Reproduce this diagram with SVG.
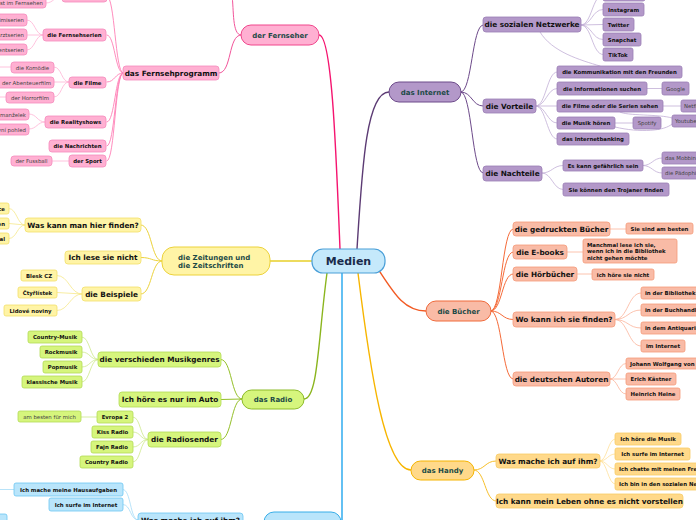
<svg xmlns="http://www.w3.org/2000/svg" width="696" height="520" viewBox="0 0 696 520">
<style>
text{font-family:"DejaVu Sans","Liberation Sans",sans-serif}
.t0{font-size:11px;font-weight:bold;fill:#1a2b4a;text-anchor:middle}
.t1{font-size:7px;font-weight:bold;fill:#1c4a46;text-anchor:middle}
.t2{font-size:7.3px;font-weight:bold;fill:#111;text-anchor:middle}
.t3{font-size:5.4px;font-weight:bold;fill:#111;text-anchor:middle}
.tn{font-size:5.4px;fill:#444;text-anchor:middle}
.s{text-anchor:start}
.e{text-anchor:end}
.c{fill:none}
.pkA{fill:#ffb0d2;stroke:#f0468c;stroke-width:1}
.pk{fill:#ffb0d2;stroke:#f58cbc;stroke-width:0.8}
.puA{fill:#b398c9;stroke:#6d4a8a;stroke-width:1}
.pu{fill:#b398c9;stroke:#9a7db5;stroke-width:0.8}
.yeA{fill:#fff4a6;stroke:#ecd23a;stroke-width:1}
.ye{fill:#fff4a6;stroke:#f2df6a;stroke-width:0.8}
.saA{fill:#f9bba6;stroke:#f06a3b;stroke-width:1}
.sa{fill:#f9bba6;stroke:#f59a7a;stroke-width:0.8}
.grA{fill:#d6f57d;stroke:#8dbb2a;stroke-width:1}
.gr{fill:#d6f57d;stroke:#b2da55;stroke-width:0.8}
.orA{fill:#ffd98a;stroke:#f5b400;stroke-width:1}
.or{fill:#ffd98a;stroke:#f8cc66;stroke-width:0.8}
.blA{fill:#b9e5fb;stroke:#38aee8;stroke-width:1}
.bl{fill:#b9e5fb;stroke:#6cc6f2;stroke-width:0.8}
</style>
<rect width="696" height="520" fill="#fff"/>
<g id="connectors" fill="none" stroke-linecap="round">
<!-- main -->
<path d="M340 249 C336 150 332 35 319 35" stroke="#f5146f" stroke-width="1.4"/>
<path d="M357 249 C362 170 366 92 389 92" stroke="#5c3b74" stroke-width="1.4"/>
<path d="M312 261 L270 261" stroke="#e8cf2a" stroke-width="1.4"/>
<path d="M380 272 C395 295 405 311 426 311" stroke="#f25a23" stroke-width="1.4"/>
<path d="M327 273 C318 340 318 399 304 399" stroke="#8bb51e" stroke-width="1.4"/>
<path d="M358 273 C370 370 385 470 411 470" stroke="#f7b500" stroke-width="1.4"/>
<path d="M342 273 L342 520" stroke="#22a6ee" stroke-width="1.4"/>
<!-- Fernseher -->
<g stroke="#f2549a" stroke-width="1">
<path d="M241 35 C232 35 234 10 232 -5"/>
<path d="M241 35 C228 35 232 73 219 73"/>
</g>
<g stroke="#ff7fb6" stroke-width="0.9">
<path d="M123 73 C115 73 115 -4 107 -4"/>
<path d="M123 73 C115 73 115 35 107 35"/>
<path d="M123 73 C115 73 115 82 107 82"/>
<path d="M123 73 C115 73 115 122 107 122"/>
<path d="M123 73 C115 73 115 146 107 146"/>
<path d="M123 73 C115 73 115 161 107 161"/>
</g>
<g stroke="#ffb3d4" stroke-width="0.8">
<path d="M62 -4 C54 -4 54 3 46 3"/>
<path d="M43 35 C35 35 35 20 27 20"/>
<path d="M43 35 L27 35"/>
<path d="M43 35 C35 35 35 50 27 50"/>
<path d="M69 82 C61 82 62 67 54 67"/>
<path d="M69 82 L54 82"/>
<path d="M69 82 C61 82 62 97 54 97"/>
<path d="M11 67 L-2 67"/>
<path d="M6 97 L-2 97"/>
<path d="M45 122 C37 122 37 114 29 114"/>
<path d="M45 122 C37 122 37 129 29 129"/>
<path d="M69 161 L52 161"/>
</g>
<!-- Internet -->
<g stroke="#6d4a8a" stroke-width="1">
<path d="M461 92 C472 92 472 25 483 25"/>
<path d="M461 92 C472 92 472 106 483 106"/>
<path d="M461 92 C472 92 472 173 483 173"/>
</g>
<g stroke="#c2aed5" stroke-width="0.8">
<path d="M581 25 C592 25 592 -5 603 -5"/>
<path d="M581 25 C592 25 592 9.5 603 9.5"/>
<path d="M581 25 L603 24.5"/>
<path d="M581 25 C592 25 592 39.5 603 39.5"/>
<path d="M581 25 C592 25 592 54.5 603 54.5"/>
<path d="M540 32 C552 52 580 60 600 66"/>
<path d="M536 106 C546 106 547 72 557 72"/>
<path d="M536 106 C546 106 547 88.5 557 88.5"/>
<path d="M536 106 L557 106"/>
<path d="M536 106 C546 106 547 123 557 123"/>
<path d="M536 106 C546 106 547 139 557 139"/>
<path d="M647 88.5 L662 88.5"/>
<path d="M663 106 L681 106"/>
<path d="M620 112 C626 116 660 114 672 118"/>
<path d="M615 127 C640 133 665 131 672 124"/>
<path d="M615 123 L633 123"/>
<path d="M542 173 C552 173 553 165.5 563 165.5"/>
<path d="M542 173 C552 173 553 189.5 563 189.5"/>
<path d="M643 165.5 C652 165.5 653 158 662 158"/>
<path d="M643 165.5 C652 165.5 653 173 662 173"/>
</g>
<!-- Buecher -->
<g stroke="#f56a38" stroke-width="1">
<path d="M491 311 C502 311 502 229 513 229"/>
<path d="M491 311 C502 311 502 252 513 252"/>
<path d="M491 311 C502 311 502 274 513 274"/>
<path d="M491 311 C502 311 502 319.5 513 319.5"/>
<path d="M491 311 C502 311 502 379 513 379"/>
</g>
<g stroke="#fbb49a" stroke-width="0.8">
<path d="M610 229 L626 229"/>
<path d="M567 252 L583 252"/>
<path d="M577 274 L592 274"/>
<path d="M615 319.5 C628 319.5 628 293 641 293"/>
<path d="M615 319.5 C628 319.5 628 310 641 310"/>
<path d="M615 319.5 C628 319.5 628 328 641 328"/>
<path d="M615 319.5 C628 319.5 628 346 641 346"/>
<path d="M610 379 C618 379 618 363.5 626 363.5"/>
<path d="M610 379 L626 379"/>
<path d="M610 379 C618 379 618 394 626 394"/>
</g>
<!-- Handy -->
<g stroke="#f7bf2a" stroke-width="1">
<path d="M474 470 C485 470 485 461 496 461"/>
<path d="M474 470 C485 470 485 501 496 501"/>
</g>
<g stroke="#ffe19a" stroke-width="0.8">
<path d="M600 461 C607 461 608 439 615 439"/>
<path d="M600 461 C607 461 608 454 615 454"/>
<path d="M600 461 C607 461 608 469 615 469"/>
<path d="M600 461 C607 461 608 484 615 484"/>
</g>
<!-- Zeitungen -->
<g stroke="#ecd23a" stroke-width="1">
<path d="M162 261 C151 261 152 225 141 225"/>
<path d="M162 261 C151 261 152 257.5 141 257.5"/>
<path d="M162 261 C151 261 152 294 141 294"/>
</g>
<g stroke="#f6e88a" stroke-width="0.8">
<path d="M25 225 C17 225 17 208.5 9 208.5"/>
<path d="M25 225 L9 223.5"/>
<path d="M25 225 C17 225 17 238.5 9 238.5"/>
<path d="M82 294 C70 294 69 275.5 57 275.5"/>
<path d="M82 294 L57 292.5"/>
<path d="M82 294 C70 294 69 310.5 57 310.5"/>
</g>
<!-- Radio -->
<g stroke="#94bf28" stroke-width="1">
<path d="M242 399 C231 399 232 359.5 221 359.5"/>
<path d="M242 399 L221 399.5"/>
<path d="M242 399 C231 399 232 439.5 221 439.5"/>
</g>
<g stroke="#cde98a" stroke-width="0.8">
<path d="M98 359.5 C90 359.5 90 337 82 337"/>
<path d="M98 359.5 C90 359.5 90 352 82 352"/>
<path d="M98 359.5 C90 359.5 90 367 82 367"/>
<path d="M98 359.5 C90 359.5 90 382 82 382"/>
<path d="M148 439.5 C140 439.5 141 417 133 417"/>
<path d="M148 439.5 C140 439.5 141 432 133 432"/>
<path d="M148 439.5 C140 439.5 141 447 133 447"/>
<path d="M148 439.5 C140 439.5 141 462 133 462"/>
<path d="M81 417 L97 417"/>
</g>
<!-- Computer -->
<g stroke="#4ab8f0" stroke-width="1">
<path d="M264 522 L243 521"/>
</g>
<g stroke="#a6dcf7" stroke-width="0.8">
<path d="M138 520 C130 520 131 489.5 123 489.5"/>
<path d="M138 520 C130 520 131 504.5 123 504.5"/>
<path d="M14 489.5 L-2 489.5"/>
</g>
</g>

<g id="medien"><rect x="312" y="249" width="73" height="24" rx="11" fill="#c5e9fb" stroke="#4a9fd8" stroke-width="1.2"/><text class="t0" x="348.5" y="265">Medien</text></g>

<!-- Fernseher -->
<g id="fernseher"><rect class="pkA" x="241" y="25" width="78" height="20" rx="10"/><text class="t1" x="280" y="37.5">der Fernseher</text></g>
<g id="fernsehprogramm"><rect class="pk" x="123" y="66" width="96" height="14" rx="3"/><text class="t2" x="171" y="75.6">das Fernsehprogramm</text></g>
<g id="fp-top"><rect class="pk" x="62" y="-12" width="45" height="14" rx="3"/></g>
<g id="fp-top-c"><rect class="pk" x="-6" y="-3" width="52" height="11" rx="3"/><text class="tn e" x="43" y="4.9">ist im Fernsehen</text></g>
<g id="fernsehserien"><rect class="pk" x="43" y="29" width="63" height="12" rx="3"/><text class="t3" x="74.5" y="37">die Fernsehserien</text></g>
<g id="krimi"><rect class="pk" x="-6" y="14" width="33" height="12" rx="3"/><text class="tn e" x="24" y="22">Krimiserien</text></g>
<g id="arzt"><rect class="pk" x="-6" y="29" width="33" height="11" rx="3"/><text class="tn e" x="24" y="36.5">Arztserien</text></g>
<g id="dok"><rect class="pk" x="-6" y="44" width="33" height="11" rx="3"/><text class="tn e" x="24" y="51.5">Dokumentserien</text></g>
<g id="filme"><rect class="pk" x="69" y="77" width="37" height="11" rx="3"/><text class="t3" x="87.5" y="84.6">die Filme</text></g>
<g id="komoedie"><rect class="pk" x="11" y="62" width="43" height="11" rx="3"/><text class="tn" x="32.5" y="69.6">die Komödie</text></g>
<g id="abenteuer"><rect class="pk" x="-6" y="77" width="60" height="11" rx="3"/><text class="tn e" x="51" y="84.6">der Abenteuerfilm</text></g>
<g id="horror"><rect class="pk" x="6" y="92" width="48" height="11" rx="3"/><text class="tn" x="30" y="99.6">der Horrorfilm</text></g>
<g id="reality"><rect class="pk" x="45" y="116" width="61" height="12" rx="3"/><text class="t3" x="75.5" y="124">die Realityshows</text></g>
<g id="vymena"><rect class="pk" x="-6" y="109" width="35" height="11" rx="3"/><text class="tn e" x="26" y="116.6">Výměna manželek</text></g>
<g id="prvni"><rect class="pk" x="-6" y="124" width="35" height="11" rx="3"/><text class="tn e" x="26" y="131.6">Svatba na první pohled</text></g>
<g id="nachrichten"><rect class="pk" x="49" y="140" width="57" height="12" rx="3"/><text class="t3" x="77.5" y="148">die Nachrichten</text></g>
<g id="sport"><rect class="pk" x="69" y="155" width="37" height="12" rx="3"/><text class="t3" x="87.5" y="163">der Sport</text></g>
<g id="fussball"><rect class="pk" x="11" y="156" width="41" height="10" rx="3"/><text class="tn" x="31.5" y="163">der Fussball</text></g>

<!-- Internet -->
<g id="internet"><rect class="puA" x="389" y="82" width="72" height="20" rx="10"/><text class="t1" x="425" y="94.5">das Internet</text></g>
<g id="sozial"><rect class="pu" x="483" y="17" width="98" height="15" rx="3"/><text class="t2" x="532" y="27.2">die sozialen Netzwerke</text></g>
<g id="s-top"><rect class="pu" x="603" y="-12" width="42" height="13" rx="2"/></g>
<g id="instagram"><rect class="pu" x="603" y="3" width="41" height="13" rx="2"/><text class="t3" x="623.5" y="11.5">Instagram</text></g>
<g id="twitter"><rect class="pu" x="603" y="18" width="31" height="13" rx="2"/><text class="t3" x="618.5" y="26.5">Twitter</text></g>
<g id="snapchat"><rect class="pu" x="603" y="33" width="38" height="13" rx="2"/><text class="t3" x="622" y="41.5">Snapchat</text></g>
<g id="tiktok"><rect class="pu" x="603" y="48" width="30" height="13" rx="2"/><text class="t3" x="618" y="56.5">TikTok</text></g>
<g id="vorteile"><rect class="pu" x="483" y="99" width="53" height="14" rx="3"/><text class="t2" x="509.5" y="108.8">die Vorteile</text></g>
<g id="kommunikation"><rect class="pu" x="557" y="66" width="125" height="12" rx="2"/><text class="t3" x="619.5" y="74">die Kommunikation mit den Freunden</text></g>
<g id="informationen"><rect class="pu" x="557" y="82" width="90" height="13" rx="2"/><text class="t3" x="602" y="90.5">die Informationen suchen</text></g>
<g id="google"><rect class="pu" x="662" y="82" width="27" height="13" rx="2"/><text class="tn" x="675.5" y="90.5">Google</text></g>
<g id="filmeserien"><rect class="pu" x="557" y="100" width="106" height="12" rx="2"/><text class="t3" x="610" y="108">die Filme oder die Serien sehen</text></g>
<g id="netflix"><rect class="pu" x="681" y="100" width="30" height="12" rx="2"/><text class="tn s" x="684" y="108">Netflix</text></g>
<g id="youtube"><rect class="pu" x="672" y="115" width="32" height="12" rx="2"/><text class="tn s" x="675" y="123">Youtube</text></g>
<g id="musik"><rect class="pu" x="557" y="117" width="58" height="12" rx="2"/><text class="t3" x="586" y="125">die Musik hören</text></g>
<g id="spotify"><rect class="pu" x="633" y="117" width="28" height="12" rx="2"/><text class="tn" x="647" y="125">Spotify</text></g>
<g id="banking"><rect class="pu" x="557" y="133" width="72" height="12" rx="2"/><text class="t3" x="593" y="141">das Internetbanking</text></g>
<g id="nachteile"><rect class="pu" x="483" y="166" width="59" height="15" rx="3"/><text class="t2" x="512.5" y="176.2">die Nachteile</text></g>
<g id="gefaehrlich"><rect class="pu" x="563" y="160" width="80" height="11" rx="2"/><text class="t3" x="603" y="167.6">Es kann gefährlich sein</text></g>
<g id="mobbing"><rect class="pu" x="662" y="152" width="45" height="12" rx="2"/><text class="tn s" x="665" y="160">das Mobbing</text></g>
<g id="paedo"><rect class="pu" x="662" y="167" width="45" height="12" rx="2"/><text class="tn s" x="665" y="175">die Pädophilie</text></g>
<g id="trojaner"><rect class="pu" x="563" y="183" width="106" height="13" rx="2"/><text class="t3" x="616" y="191.5">Sie können den Trojaner finden</text></g>

<!-- Buecher -->
<g id="buecher"><rect class="saA" x="426" y="301" width="65" height="20" rx="10"/><text class="t1" x="458.5" y="313.5">die Bücher</text></g>
<g id="gedruckt"><rect class="sa" x="513" y="222" width="97" height="14" rx="3"/><text class="t2" x="561.5" y="231.8">die gedruckten Bücher</text></g>
<g id="besten"><rect class="sa" x="626" y="223" width="67" height="11" rx="2"/><text class="t3" x="659.5" y="230.6">Sie sind am besten</text></g>
<g id="ebooks"><rect class="sa" x="513" y="245" width="54" height="14" rx="3"/><text class="t2" x="540" y="254.8">die E-books</text></g>
<g id="manchmal"><rect class="sa" x="583" y="239" width="94" height="24" rx="2"/><text class="t3 s" x="587" y="246.5">Manchmal lese ich sie,</text><text class="t3 s" x="587" y="253">wenn ich in die Bibliothek</text><text class="t3 s" x="587" y="259.5">nicht gehen möchte</text></g>
<g id="hoerbuecher"><rect class="sa" x="513" y="267" width="64" height="14" rx="3"/><text class="t2" x="545" y="276.8">die Hörbücher</text></g>
<g id="hoere"><rect class="sa" x="592" y="269" width="62" height="11" rx="2"/><text class="t3" x="623" y="276.6">ich höre sie nicht</text></g>
<g id="wokann"><rect class="sa" x="513" y="312" width="102" height="15" rx="3"/><text class="t2" x="564" y="322.2">Wo kann ich sie finden?</text></g>
<g id="bibliothek"><rect class="sa" x="641" y="287" width="62" height="12" rx="2"/><text class="t3 s" x="645" y="295">in der Bibliothek</text></g>
<g id="buchhandlung"><rect class="sa" x="641" y="304" width="62" height="12" rx="2"/><text class="t3 s" x="645" y="312">in der Buchhandlung</text></g>
<g id="antiquariat"><rect class="sa" x="641" y="322" width="62" height="12" rx="2"/><text class="t3 s" x="645" y="330">in dem Antiquariat</text></g>
<g id="iminternet"><rect class="sa" x="641" y="340" width="44" height="12" rx="2"/><text class="t3" x="663" y="348">im Internet</text></g>
<g id="autoren"><rect class="sa" x="513" y="372" width="97" height="14" rx="3"/><text class="t2" x="561.5" y="381.8">die deutschen Autoren</text></g>
<g id="goethe"><rect class="sa" x="626" y="358" width="80" height="11" rx="2"/><text class="t3 s" x="630" y="365.6">Johann Wolfgang von Goethe</text></g>
<g id="kaestner"><rect class="sa" x="626" y="373" width="50" height="12" rx="2"/><text class="t3" x="651" y="381">Erich Kästner</text></g>
<g id="heine"><rect class="sa" x="626" y="388" width="54" height="12" rx="2"/><text class="t3" x="653" y="396">Heinrich Heine</text></g>

<!-- Handy -->
<g id="handy"><rect class="orA" x="411" y="461" width="63" height="19" rx="9.5"/><text class="t1" x="442.5" y="473">das Handy</text></g>
<g id="wasmache-h"><rect class="or" x="496" y="454" width="104" height="14" rx="3"/><text class="t2" x="548" y="463.8">Was mache ich auf ihm?</text></g>
<g id="leben"><rect class="or" x="496" y="494" width="187" height="14" rx="3"/><text class="t2" x="589.5" y="503.8">Ich kann mein Leben ohne es nicht vorstellen</text></g>
<g id="h-musik"><rect class="or" x="615" y="433" width="66" height="12" rx="2"/><text class="t3" x="648" y="441">Ich höre die Musik</text></g>
<g id="h-surfe"><rect class="or" x="615" y="448" width="75" height="12" rx="2"/><text class="t3" x="652.5" y="456">Ich surfe im Internet</text></g>
<g id="h-chatte"><rect class="or" x="615" y="463" width="100" height="12" rx="2"/><text class="t3 s" x="619" y="471">Ich chatte mit meinen Freunden</text></g>
<g id="h-sozial"><rect class="or" x="615" y="478" width="110" height="12" rx="2"/><text class="t3 s" x="619" y="486">Ich bin in den sozialen Netzwerken</text></g>

<!-- Zeitungen -->
<g id="zeitungen"><rect class="yeA" x="162" y="247" width="108" height="28" rx="12"/><text class="t1 s" x="178" y="259.5">die Zeitungen und</text><text class="t1 s" x="178" y="267.8">die Zeitschriften</text></g>
<g id="waskann"><rect class="ye" x="25" y="218" width="116" height="14" rx="3"/><text class="t2" x="83" y="227.8">Was kann man hier finden?</text></g>
<g id="z-c1"><rect class="ye" x="-10" y="203" width="19" height="11" rx="2"/><text class="t3 e" x="5" y="210.6">die Annonce</text></g>
<g id="z-c2"><rect class="ye" x="-10" y="218" width="19" height="11" rx="2"/><text class="t3 e" x="5" y="225.6">die Informationen</text></g>
<g id="z-c3"><rect class="ye" x="-10" y="233" width="19" height="11" rx="2"/><text class="t3 e" x="5" y="240.6">das Journal</text></g>
<g id="lesenicht"><rect class="ye" x="65" y="251" width="76" height="13" rx="3"/><text class="t2" x="103" y="260.3">Ich lese sie nicht</text></g>
<g id="beispiele"><rect class="ye" x="82" y="287" width="59" height="14" rx="3"/><text class="t2" x="111.5" y="296.8">die Beispiele</text></g>
<g id="blesk"><rect class="ye" x="21" y="270" width="36" height="11" rx="2"/><text class="t3" x="39" y="277.6">Blesk CZ</text></g>
<g id="ctyr"><rect class="ye" x="18" y="287" width="39" height="11" rx="2"/><text class="t3" x="37.5" y="294.6">Čtyřlístek</text></g>
<g id="lidove"><rect class="ye" x="4" y="305" width="53" height="11" rx="2"/><text class="t3" x="30.5" y="312.6">Lidové noviny</text></g>

<!-- Radio -->
<g id="radio"><rect class="grA" x="242" y="390" width="62" height="19" rx="9.5"/><text class="t1" x="273" y="402">das Radio</text></g>
<g id="genres"><rect class="gr" x="98" y="352" width="123" height="15" rx="3"/><text class="t2" x="159.5" y="362.2">die verschieden Musikgenres</text></g>
<g id="country"><rect class="gr" x="28" y="331" width="54" height="12" rx="2"/><text class="t3" x="55" y="339">Country-Musik</text></g>
<g id="rock"><rect class="gr" x="40" y="346" width="42" height="12" rx="2"/><text class="t3" x="61" y="354">Rockmusik</text></g>
<g id="pop"><rect class="gr" x="43" y="361" width="39" height="12" rx="2"/><text class="t3" x="62.5" y="369">Popmusik</text></g>
<g id="klassik"><rect class="gr" x="22" y="376" width="60" height="12" rx="2"/><text class="t3" x="52" y="384">klassische Musik</text></g>
<g id="auto"><rect class="gr" x="119" y="392" width="102" height="15" rx="3"/><text class="t2" x="170" y="402.2">Ich höre es nur im Auto</text></g>
<g id="sender"><rect class="gr" x="148" y="432" width="73" height="15" rx="3"/><text class="t2" x="184.5" y="442.2">die Radiosender</text></g>
<g id="evropa"><rect class="gr" x="97" y="411" width="36" height="12" rx="2"/><text class="t3" x="115" y="419">Evropa 2</text></g>
<g id="besten-r"><rect class="gr" x="18" y="411" width="63" height="11" rx="2"/><text class="tn" x="49.5" y="418.6">am besten für mich</text></g>
<g id="kiss"><rect class="gr" x="92" y="426" width="41" height="12" rx="2"/><text class="t3" x="112.5" y="434">Kiss Radio</text></g>
<g id="fajn"><rect class="gr" x="91" y="441" width="42" height="12" rx="2"/><text class="t3" x="112" y="449">Fajn Radio</text></g>
<g id="countryradio"><rect class="gr" x="80" y="456" width="53" height="12" rx="2"/><text class="t3" x="106.5" y="464">Country Radio</text></g>

<!-- Computer -->
<g id="computer"><rect class="blA" x="264" y="512" width="77" height="22" rx="10"/><text class="t1" x="302.5" y="526">der Computer</text></g>
<g id="wasmache-c"><rect class="bl" x="138" y="513" width="105" height="14" rx="3"/><text class="t2" x="190.5" y="523">Was mache ich auf ihm?</text></g>
<g id="hausaufgaben"><rect class="bl" x="14" y="483" width="109" height="13" rx="2"/><text class="t3" x="68.5" y="491.5">Ich mache meine Hausaufgaben</text></g>
<g id="c-surfe"><rect class="bl" x="49" y="498" width="74" height="13" rx="2"/><text class="t3" x="86" y="506.5">Ich surfe im Internet</text></g>
<g id="c-corner"><rect class="bl" x="-10" y="514" width="17" height="12" rx="2"/></g>
</svg>
